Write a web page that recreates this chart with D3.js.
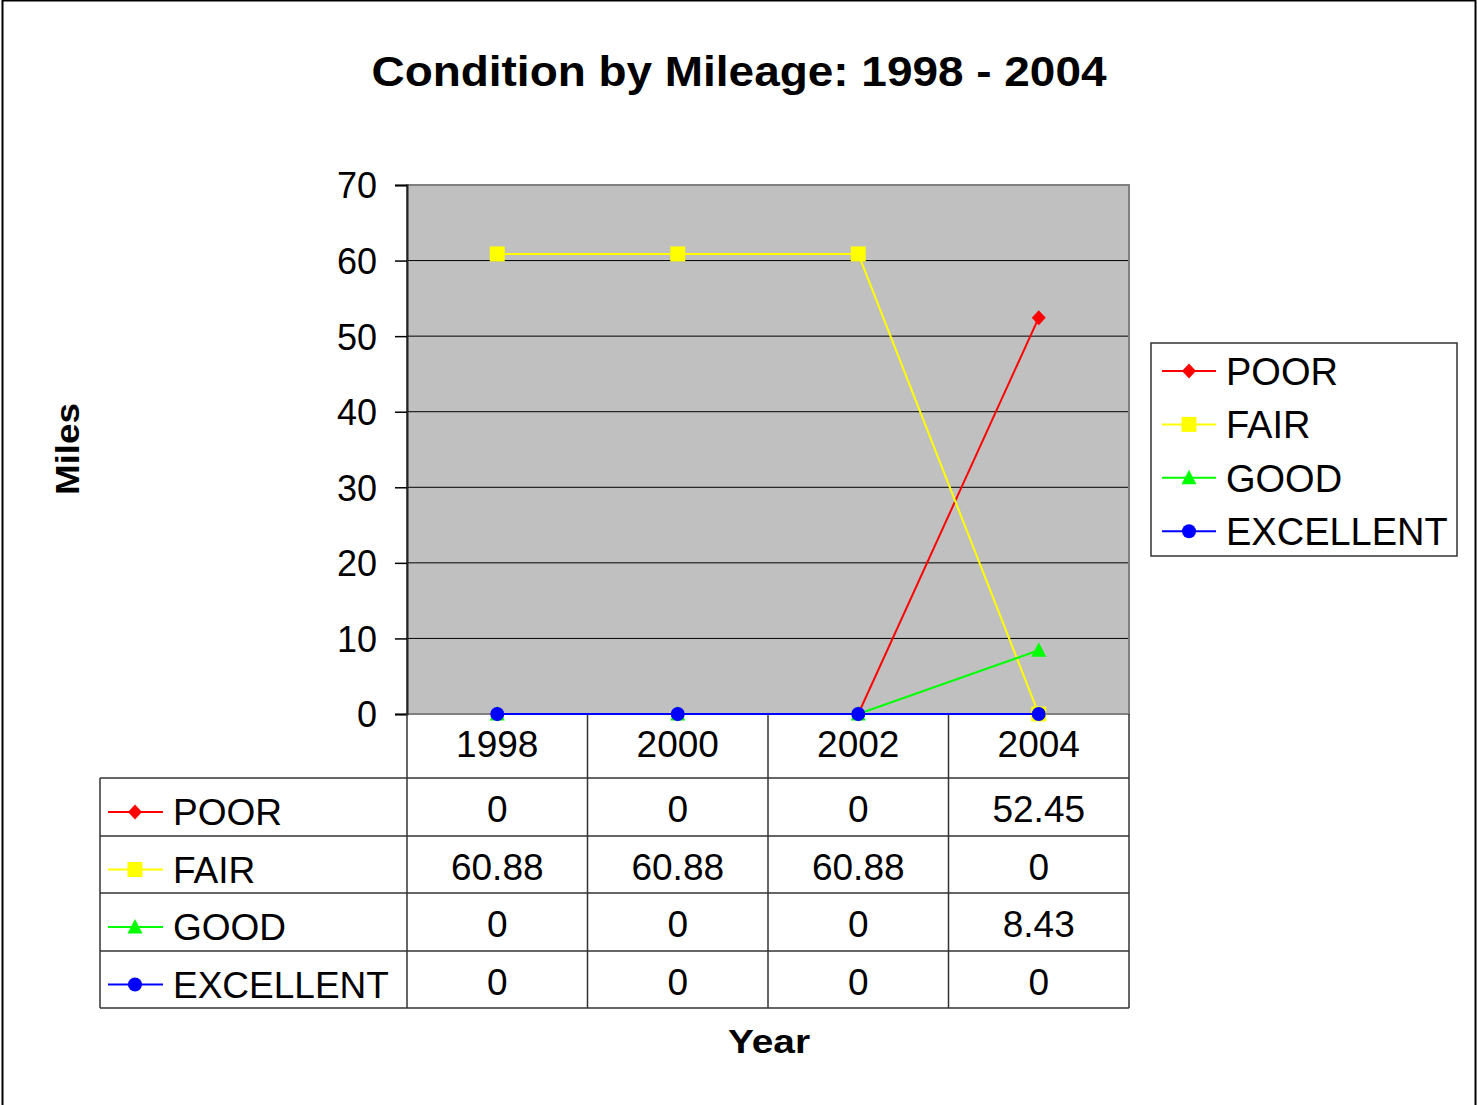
<!DOCTYPE html>
<html><head><meta charset="utf-8">
<script src="https://cdn.jsdelivr.net/npm/d3@7"></script>
<style>body{margin:0;background:#fff}svg{display:block}text{font-family:"Liberation Sans",Arial,sans-serif}</style>
</head><body><svg id="c" width="1477" height="1105"></svg>
<script>
const years = ["1998","2000","2002","2004"];
const seriesNames = ["POOR","FAIR","GOOD","EXCELLENT"];
const poor = [0,0,0,52.45];
const fair = [60.88,60.88,60.88,0];
const good = [0,0,0,8.43];
const excellent = [0,0,0,0];
const yTicks = [0,10,20,30,40,50,60,70];
const colors = ["#ff0000","#ffff00","#00ff00","#0000ff"];
const values = [poor, fair, good, excellent];

// marker shapes (custom d3 symbol types)
const diamond = {draw(ctx){ctx.moveTo(0,-7.5);ctx.lineTo(7,0);ctx.lineTo(0,7.5);ctx.lineTo(-7,0);ctx.closePath();}};
const square = {draw(ctx){ctx.rect(-7.5,-7.5,15,15);}};
const triangle = {draw(ctx){ctx.moveTo(0,-8);ctx.lineTo(7.5,6.5);ctx.lineTo(-7.5,6.5);ctx.closePath();}};
const circle = {draw(ctx){ctx.arc(0,0,7,0,2*Math.PI);}};
const markers = [diamond, square, triangle, circle];
const sym = i => d3.symbol(markers[i])();

const svg = d3.select("#c");
svg.append("rect").attr("x",2.5).attr("y",0.5).attr("width",1473).attr("height",1110).attr("fill","#fff").attr("stroke","#000").attr("stroke-width",2);

const L=407,R=1129,T=185,B=714;
const x = d3.scaleBand().domain(years).range([L,R]);
const y = d3.scaleLinear().domain([0,70]).range([B,T]);
const cx = d => x(d)+x.bandwidth()/2;

svg.append("text").attr("x",739).attr("y",86).attr("text-anchor","middle").attr("font-size",43).attr("font-weight","bold")
  .attr("textLength",735).attr("lengthAdjust","spacingAndGlyphs").text("Condition by Mileage: 1998 - 2004");

svg.append("rect").attr("x",L).attr("y",T).attr("width",R-L).attr("height",B-T).attr("fill","#c0c0c0");
svg.append("g").selectAll("line").data(yTicks.filter(d=>d>0&&d<70)).join("line")
  .attr("x1",L).attr("x2",R).attr("y1",d=>y(d)).attr("y2",d=>y(d)).attr("stroke","#000").attr("stroke-width",1);
svg.append("rect").attr("x",L).attr("y",T).attr("width",R-L).attr("height",B-T).attr("fill","none").attr("stroke","#808080").attr("stroke-width",2);

const ya = svg.append("g").attr("transform",`translate(${L},0)`).call(d3.axisLeft(y).tickValues(yTicks).tickSize(12).tickPadding(18));
ya.select(".domain").attr("stroke","#222").attr("stroke-width",2);
ya.selectAll(".tick line").attr("stroke","#000").attr("stroke-width",1.5);
ya.selectAll("text").attr("font-size",36).attr("fill","#000").attr("font-family","Liberation Sans, Arial, sans-serif").attr("dy","0.36em");

svg.append("text").attr("transform","translate(79,449) rotate(-90)").attr("text-anchor","middle").attr("font-size",34).attr("font-weight","bold")
  .attr("textLength",92).attr("lengthAdjust","spacingAndGlyphs").text("Miles");

// data table
const rowH = [778,836,893,951,1008];
const tg = svg.append("g");
const colEdges = years.map(d=>x(d)).concat([R]);
colEdges.forEach(ex=>tg.append("line").attr("x1",ex).attr("x2",ex).attr("y1",B).attr("y2",rowH[4]).attr("stroke","#333").attr("stroke-width",1.5));
tg.append("line").attr("x1",100).attr("x2",100).attr("y1",rowH[0]).attr("y2",rowH[4]).attr("stroke","#333").attr("stroke-width",1.5);
rowH.forEach(ry=>tg.append("line").attr("x1",100).attr("x2",R).attr("y1",ry).attr("y2",ry).attr("stroke","#333").attr("stroke-width",1.5));
tg.selectAll("text.yr").data(years).join("text").attr("class","yr").attr("x",cx).attr("y",757).attr("text-anchor","middle").attr("font-size",37).text(d=>d);

seriesNames.forEach((s,i)=>{
  const my = (rowH[i]+rowH[i+1])/2;
  tg.append("line").attr("x1",108).attr("x2",163).attr("y1",my+5).attr("y2",my+5).attr("stroke",colors[i]).attr("stroke-width",2);
  tg.append("path").attr("d",sym(i)).attr("transform",`translate(135,${my+5})`).attr("fill",colors[i]);
  tg.append("text").attr("x",173).attr("y",my+18).attr("font-size",37).text(s);
  years.forEach((yr,j)=>{
    tg.append("text").attr("x",cx(yr)).attr("y",my+15).attr("text-anchor","middle").attr("font-size",37).text(values[i][j]);
  });
});

svg.append("text").attr("x",769).attr("y",1053).attr("text-anchor","middle").attr("font-size",34).attr("font-weight","bold")
  .attr("textLength",82).attr("lengthAdjust","spacingAndGlyphs").text("Year");

// series lines and markers
values.forEach((vals,i)=>{
  const line = d3.line().x((d,j)=>cx(years[j])).y(d=>y(d));
  svg.append("path").attr("d",line(vals)).attr("fill","none").attr("stroke",colors[i]).attr("stroke-width",2);
  svg.append("g").selectAll("path").data(vals).join("path")
    .attr("d",sym(i)).attr("transform",(d,j)=>`translate(${cx(years[j])},${y(d)})`).attr("fill",colors[i]);
});

// legend
const lg = svg.append("g");
lg.append("rect").attr("x",1151).attr("y",343).attr("width",306).attr("height",213).attr("fill","#fff").attr("stroke","#333").attr("stroke-width",1.5);
seriesNames.forEach((s,i)=>{
  const ly = 371 + i*53.4;
  lg.append("line").attr("x1",1162).attr("x2",1216).attr("y1",ly).attr("y2",ly).attr("stroke",colors[i]).attr("stroke-width",2);
  lg.append("path").attr("d",sym(i)).attr("transform",`translate(1189,${ly})`).attr("fill",colors[i]);
  lg.append("text").attr("x",1226).attr("y",ly+14).attr("font-size",38).text(s);
});
</script></body></html>
